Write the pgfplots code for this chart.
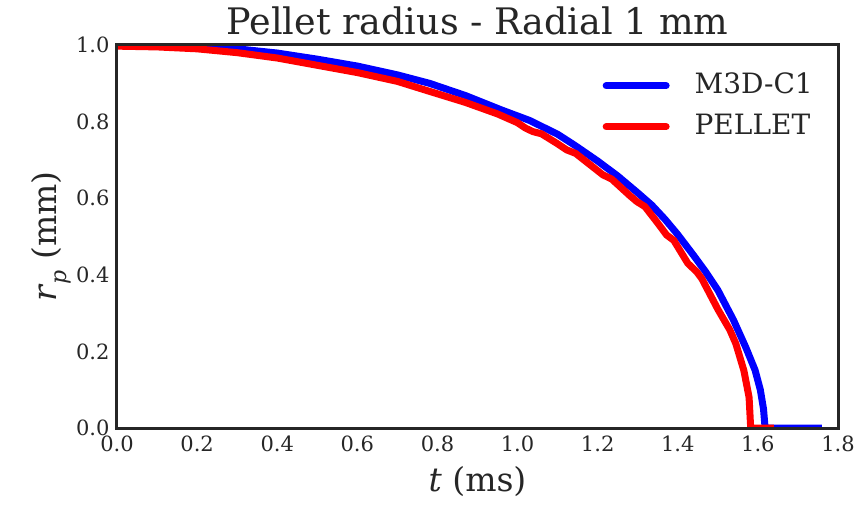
\documentclass[border=0pt]{standalone}
\usepackage{fontspec}
\setmainfont{DejaVu Serif}
\usepackage{pgfplots}
\pgfplotsset{compat=1.18}
\definecolor{axgray}{HTML}{262626}
\begin{document}
\begin{tikzpicture}
\begin{axis}[
  name=ax,
  scale only axis, width=721pt, height=383pt,
  xmin=0, xmax=1.8, ymin=0, ymax=1.0,
  xtick={0,0.2,0.4,0.6,0.8,1.0,1.2,1.4,1.6,1.8},
  ytick={0,0.2,0.4,0.6,0.8,1.0},
  tick style={draw=none},
  axis on top,
  axis line style={axgray, line width=3pt},
  /pgf/number format/fixed,
  /pgf/number format/fixed zerofill,
  /pgf/number format/precision=1,
  /pgf/number format/assume math mode=true,
  ticklabel style={font=\fontsize{21}{25}\selectfont, text=axgray},
  xticklabel style={yshift=-4pt},
  yticklabel style={xshift=-4pt},
  label style={font=\fontsize{33}{38}\selectfont, text=axgray},
  xlabel={\textit{t} (ms)},
  xlabel style={inner sep=1pt, yshift=-10pt},
  ylabel={\textit{r}\raisebox{-0.3em}{\fontsize{22}{22}\selectfont\textit{p}} (mm)},
  ylabel style={yshift=-2pt},
  title={Pellet radius - Radial 1 mm},
  title style={font=\fontsize{36.5}{42}\selectfont, text=axgray},
  legend style={draw=none, fill=none, at={(1,1)}, anchor=north east,
    xshift=-25pt, yshift=-27pt, font=\fontsize{28}{34}\selectfont,
    text=axgray, row sep=14pt, column sep=25pt, inner sep=0pt,
    nodes={inner sep=0pt, text height=21pt, text depth=6pt}},
  legend cell align=left,
  legend image code/.code={\draw[#1,line width=7pt,line cap=round] (0pt,0pt) -- (60pt,0pt);},
]
\addplot[blue, line width=7pt, line join=round] coordinates {
(0,1.0)(0.1,0.999)(0.2,0.996)(0.3,0.99)(0.4,0.979)(0.5,0.963)(0.6,0.945)(0.7,0.922)(0.78,0.9)(0.87,0.868)(0.956,0.832)(1.03,0.803)(1.1,0.767)(1.143,0.738)(1.2,0.697)(1.25,0.658)(1.3,0.614)(1.335,0.582)(1.368,0.545)(1.4,0.505)(1.44,0.45)(1.468,0.41)(1.5,0.36)(1.539,0.282)(1.57,0.21)(1.593,0.151)(1.606,0.1)(1.614,0.05)(1.618,0.0)(1.76,0.0)
};
\addlegendentry{M3D-C1}
\addplot[red, line width=7pt, line join=round] coordinates {
(0,0.997)(0.1,0.995)(0.2,0.99)(0.3,0.98)(0.4,0.966)(0.5,0.947)(0.6,0.928)(0.7,0.905)(0.78,0.879)(0.87,0.85)(0.95,0.82)(1.0,0.797)(1.02,0.783)(1.038,0.774)(1.06,0.768)(1.1,0.742)(1.123,0.726)(1.145,0.717)(1.19,0.68)(1.213,0.661)(1.235,0.65)(1.28,0.607)(1.298,0.591)(1.318,0.578)(1.35,0.535)(1.372,0.504)(1.39,0.49)(1.425,0.43)(1.447,0.408)(1.46,0.39)(1.5,0.31)(1.53,0.256)(1.545,0.22)(1.565,0.15)(1.578,0.08)(1.582,0.0)(1.64,0.0)
};
\addlegendentry{PELLET}
\end{axis}
\pgfresetboundingbox
\path[use as bounding box] ([xshift=-117pt,yshift=-76pt]ax.south west) rectangle ([xshift=23pt,yshift=45pt]ax.north east);
\end{tikzpicture}
\end{document}
